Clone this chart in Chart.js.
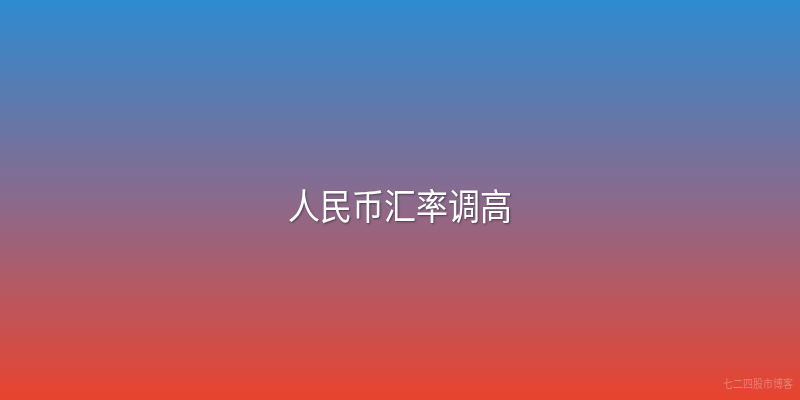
<!DOCTYPE html>
<html>
<head>
<meta charset="utf-8">
<script src="https://cdn.jsdelivr.net/npm/chart.js@4.4.0/dist/chart.umd.min.js"></script>
<style>
  html, body { margin: 0; padding: 0; background: #000; }
  #wrap { width: 800px; height: 400px; }
</style>
</head>
<body>
<div id="wrap"><canvas id="c"></canvas></div>
<script>
// the picture is only a cover card: no series, just the title and the watermark
const categories = [];
const values = [];
const titleText = '人民币汇率调高';
const watermarkText = '七二四股市博客';

// background gradient + centred title, painted through a plugin
const coverPlugin = {
  id: 'cover',
  beforeDraw(chart) {
    const { ctx, width, height } = chart;
    const g = ctx.createLinearGradient(0, 0, 0, height);
    g.addColorStop(0, '#2e8bd1');
    g.addColorStop(0.5, '#8b6a8c');
    g.addColorStop(1, '#e9432e');
    ctx.save();
    ctx.fillStyle = g;
    ctx.fillRect(0, 0, width, height);
    ctx.restore();
  },
  afterDraw(chart) {
    const { ctx, width } = chart;
    // glyphs in the reference are a bit taller than wide
    ctx.save();
    ctx.translate(width / 2, 206);
    ctx.scale(1, 1.12);
    ctx.textAlign = 'center';
    ctx.textBaseline = 'middle';
    ctx.font = '32px "Noto Sans CJK SC", sans-serif';
    ctx.shadowColor = 'rgba(40,30,50,0.6)';
    ctx.shadowOffsetX = 1;
    ctx.shadowOffsetY = 1;
    ctx.shadowBlur = 2;
    ctx.fillStyle = '#ffffff';
    ctx.fillText(titleText, 0, 0);
    ctx.restore();

    ctx.save();
    ctx.translate(width - 7, 384);
    ctx.scale(1, 1.15);
    ctx.textAlign = 'right';
    ctx.textBaseline = 'middle';
    ctx.font = '10px "Noto Sans CJK SC", sans-serif';
    ctx.fillStyle = 'rgba(255,255,255,0.3)';
    ctx.fillText(watermarkText, 0, 0);
    ctx.restore();
  }
};

new Chart(document.getElementById('c'), {
  type: 'bar',
  data: {
    labels: categories,
    datasets: [{ data: values, backgroundColor: '#ffffff' }]
  },
  options: {
    responsive: true,
    maintainAspectRatio: false,
    animation: false,
    layout: { padding: 0 },
    plugins: { legend: { display: false }, tooltip: { enabled: false } },
    scales: { x: { display: false }, y: { display: false } }
  },
  plugins: [coverPlugin]
});
</script>
</body>
</html>
